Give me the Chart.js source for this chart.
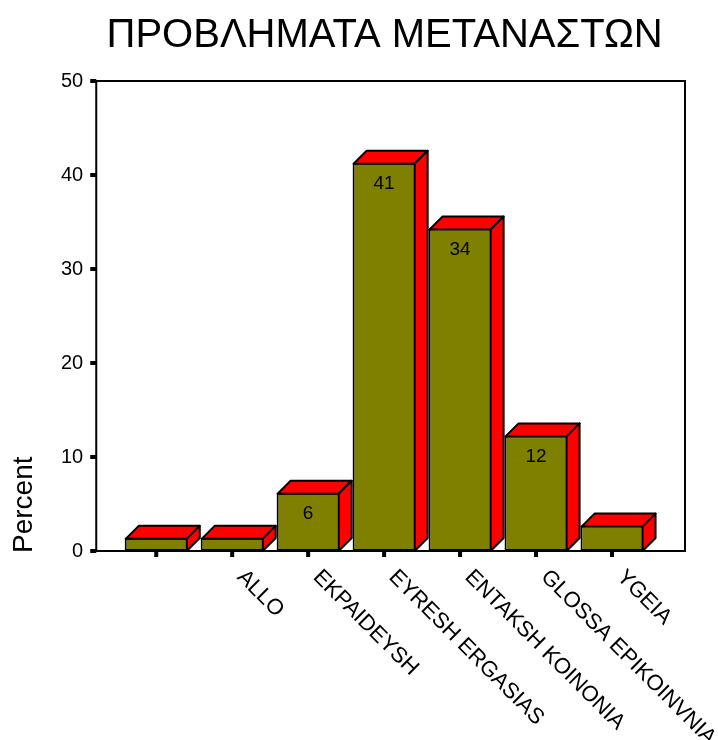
<!DOCTYPE html>
<html>
<head>
<meta charset="utf-8">
<script src="https://cdn.jsdelivr.net/npm/chart.js@4.4.0/dist/chart.umd.min.js"></script>
<style>
  body { margin: 0; background: #fff; }
  #wrap { width: 718px; height: 740px; }
</style>
</head>
<body>
<div id="wrap"><canvas id="myChart" width="718" height="740"></canvas></div>
<script>
var chartTitle = 'ΠΡΟΒΛΗΜΑΤΑ ΜΕΤΑΝΑΣΤΩΝ';
var axisTitle = 'Percent';
var categories = ['', 'ALLO', 'EKPAIDEYSH', 'EYRESH ERGASIAS', 'ENTAKSH KOINONIA', 'GLOSSA EPIKOINVNIA', 'YGEIA'];
var percents = [1.4, 1.4, 6.2, 41.3, 34.3, 12.3, 2.7];
var yTicks = [0, 10, 20, 30, 40, 50];

var FONT = '"Liberation Sans", Arial, sans-serif';
var DEPTH = 13;

var bar3d = {
    id: 'bar3d',
    beforeDatasetsDraw: function(chart){
        var ctx = chart.ctx;
        var area = chart.chartArea;
        var xs = chart.scales.x;
        var ys = chart.scales.y;
        var left = area.left - 22;
        var right = area.right + 35;

        ctx.save();
        // frame
        ctx.strokeStyle = '#000';
        ctx.lineWidth = 2;
        ctx.strokeRect(left, area.top, right - left, area.bottom - area.top);

        // tick marks
        ctx.fillStyle = '#000';
        yTicks.forEach(function(v){
            var y = ys.getPixelForValue(v);
            ctx.fillRect(left - 6, y - 2, 6, 4);
        });
        categories.forEach(function(c, i){
            var x = xs.getPixelForValue(i);
            ctx.fillRect(x - 2, area.bottom + 1, 4, 5);
        });

        // title
        ctx.font = '40px ' + FONT;
        ctx.textAlign = 'center';
        ctx.textBaseline = 'alphabetic';
        ctx.fillText(chartTitle, (left + right) / 2 - 6, 47);

        // y axis title
        ctx.save();
        ctx.translate(32, area.bottom + 2);
        ctx.rotate(-Math.PI / 2);
        ctx.font = '28px ' + FONT;
        ctx.textAlign = 'left';
        ctx.fillText(axisTitle, 0, 0);
        ctx.restore();

        // x labels, rotated down to the right
        ctx.font = '22px ' + FONT;
        categories.forEach(function(c, i){
            var x = xs.getPixelForValue(i);
            ctx.save();
            ctx.translate(x + 4, area.bottom + 27);
            ctx.rotate(Math.PI / 4);
            ctx.textAlign = 'left';
            ctx.fillText(c, 0, 0);
            ctx.restore();
        });
        ctx.restore();
    },
    afterDatasetsDraw: function(chart){
        var ctx = chart.ctx;
        var meta = chart.getDatasetMeta(0);
        ctx.save();
        ctx.lineWidth = 2;
        ctx.lineJoin = 'round';
        ctx.strokeStyle = '#000';
        meta.data.forEach(function(bar, i){
            var p = bar.getProps(['x', 'y', 'base', 'width'], true);
            var l = p.x - p.width / 2 + 1;
            var r = p.x + p.width / 2 - 1;
            var t = p.y + 1;
            var b = p.base;
            ctx.fillStyle = '#ff0000';
            // top
            ctx.beginPath();
            ctx.moveTo(l, t);
            ctx.lineTo(l + DEPTH, t - DEPTH);
            ctx.lineTo(r + DEPTH, t - DEPTH);
            ctx.lineTo(r, t);
            ctx.closePath();
            ctx.fill();
            ctx.stroke();
            // side
            ctx.beginPath();
            ctx.moveTo(r, t);
            ctx.lineTo(r + DEPTH, t - DEPTH);
            ctx.lineTo(r + DEPTH, b - DEPTH);
            ctx.lineTo(r, b);
            ctx.closePath();
            ctx.fill();
            ctx.stroke();

            if (percents[i] >= 5) {
                ctx.fillStyle = '#000';
                ctx.font = '19px ' + FONT;
                ctx.textAlign = 'center';
                ctx.textBaseline = 'middle';
                ctx.fillText(String(Math.round(percents[i])), p.x, p.y + 21);
            }
        });
        ctx.restore();
    }
};

function createChart(){
    var ctx = document.getElementById('myChart');
    var myBarChart = new Chart(ctx, {
        type: 'bar',
        data: {
            labels: categories,
            datasets: [{
                data: percents,
                backgroundColor: '#808000',
                borderColor: '#000',
                borderWidth: 2,
                borderSkipped: false,
                categoryPercentage: 1,
                barPercentage: 0.83
            }]
        },
        options: {
            responsive: false,
            animation: false,
            layout: { padding: { left: 26, right: 68, top: 81, bottom: 189 } },
            plugins: {
                legend: { display: false },
                tooltip: { enabled: false }
            },
            scales: {
                x: {
                    grid: { display: false, drawTicks: false },
                    border: { display: false },
                    ticks: { display: false, autoSkip: false }
                },
                y: {
                    min: 0,
                    max: 50,
                    grid: { display: false, drawTicks: false },
                    border: { display: false },
                    ticks: {
                        stepSize: 10,
                        padding: 35,
                        color: '#000',
                        font: { family: FONT, size: 20 }
                    }
                }
            }
        },
        plugins: [bar3d]
    });
}

createChart();
</script>
</body>
</html>
